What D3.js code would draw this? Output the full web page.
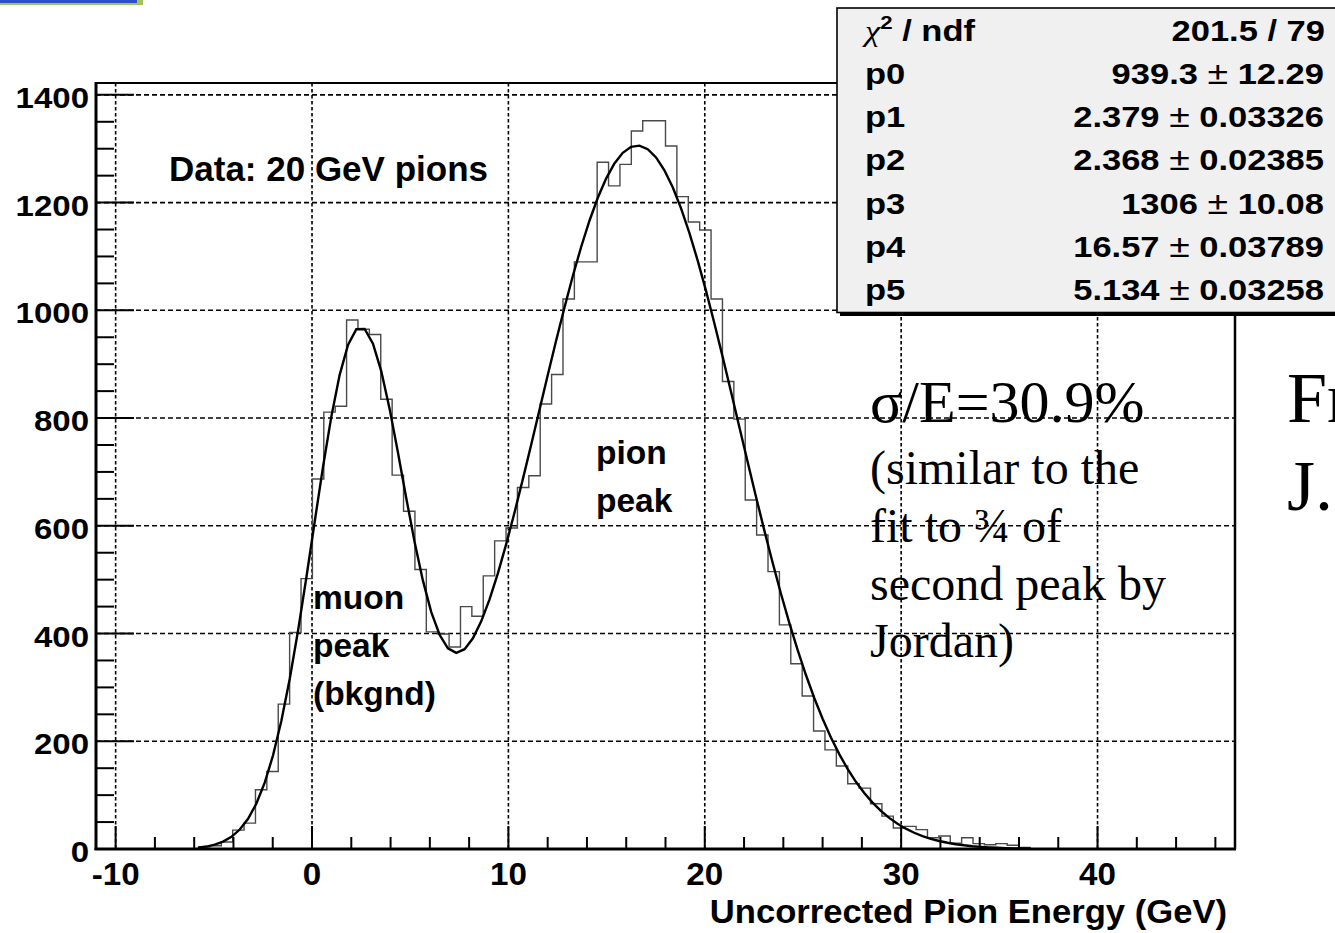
<!DOCTYPE html>
<html><head><meta charset="utf-8">
<script src="https://cdn.jsdelivr.net/npm/d3@7"></script>
<style>html,body{margin:0;padding:0;background:#fff;overflow:hidden}</style>
</head><body>
<svg id="c" width="1335" height="933"></svg>
<script>
// ---------------- data ----------------
const binLow = -11, binHigh = 47, nBins = 100;
const counts = [
  0,0,0,0,0,0,0,0,0,4,
  6,13,35,48,110,144,269,402,502,687,
  811,822,982,965,955,835,694,627,519,403,
  399,375,450,432,507,572,596,671,693,826,
  881,1021,1090,1090,1275,1231,1271,1333,1352,1352,
  1305,1211,1164,1149,1021,868,798,648,583,515,
  416,344,284,219,184,154,121,113,84,61,
  39,42,36,21,24,11,21,10,8,10,
  7,3,0,0,0,0,0,0,0,0,
  0,0,0,0,0,0,0,0,0,0
];
const fitParams = [939.3, 2.379, 2.368, 1306, 16.57, 5.134];
const fitRange = [-5.8, 36.6];
const xTicks = [-10, 0, 10, 20, 30, 40];
const yTicks = [0, 200, 400, 600, 800, 1000, 1200, 1400];
const yMax = 1422;
const xTitle = "Uncorrected Pion Energy (GeV)";
const chiNdf = "201.5 / 79";
const statNames = ["p0", "p1", "p2", "p3", "p4", "p5"];
const statVals = ["939.3", "2.379", "2.368", "1306", "16.57", "5.134"];
const statErrs = ["12.29", "0.03326", "0.02385", "10.08", "0.03789", "0.03258"];
const muonLines = ["muon", "peak", "(bkgnd)"];
const pionLines = ["pion", "peak"];
const dataLabel = "Data: 20 GeV pions";
const resTitle = "σ/E=30.9%";
const resLines = ["(similar to the", "fit to ¾ of", "second peak by", "Jordan)"];
const sideLines = ["Fr", "J."];

// ---------------- layout ----------------
const svg = d3.select("#c");
const L = 96, R = 1235, T = 83, B = 849;
const x = d3.scaleLinear().domain([binLow, binHigh]).range([L, R]);
const y = d3.scaleLinear().domain([0, yMax]).range([B, T]);
const SANS = "'Liberation Sans', Arial, Helvetica, sans-serif";
const SERIF = "'Liberation Serif', 'Times New Roman', serif";

function txt(parent, px, py, str, size, o = {}) {
  const sx = o.sx || 1;
  return parent.append("text")
    .attr("transform", `translate(${px},${py}) scale(${sx},1)`)
    .attr("font-family", o.family || SANS)
    .attr("font-weight", o.weight || "bold")
    .attr("font-size", size)
    .attr("text-anchor", o.anchor || "start")
    .attr("fill", "#000")
    .text(str);
}

// decoration top-left
svg.append("rect").attr("x", 0).attr("y", 0).attr("width", 143).attr("height", 5).attr("fill", "#a6c25a");
svg.append("rect").attr("x", 0).attr("y", 0).attr("width", 137).attr("height", 3).attr("fill", "#2f4fc8");

// grid
const g = svg.append("g");
g.selectAll("line.gx").data(xTicks).join("line")
  .attr("x1", d => x(d)).attr("x2", d => x(d)).attr("y1", T).attr("y2", B)
  .attr("stroke", "#000").attr("stroke-width", 1.6).attr("stroke-dasharray", "3.5,2.5");
g.selectAll("line.gy").data(yTicks.filter(d => d > 0)).join("line")
  .attr("x1", L).attr("x2", R).attr("y1", d => y(d)).attr("y2", d => y(d))
  .attr("stroke", "#000").attr("stroke-width", 1.6).attr("stroke-dasharray", "5,3");

// histogram (step outline)
const bw = (binHigh - binLow) / nBins;
const pts = [[binLow, 0]];
counts.forEach((c, i) => {
  pts.push([binLow + i * bw, c]);
  pts.push([binLow + (i + 1) * bw, c]);
});
pts.push([binHigh, 0]);
svg.append("path")
  .attr("d", d3.line().x(d => x(d[0])).y(d => y(d[1]))(pts))
  .attr("fill", "none").attr("stroke", "#4a4a4a").attr("stroke-width", 1.4);

// fit function from displayed parameters
const [p0, p1, p2, p3, p4, p5] = fitParams;
const f = v => p0 * Math.exp(-0.5 * ((v - p1) / p2) ** 2) + p3 * Math.exp(-0.5 * ((v - p4) / p5) ** 2);
const fx = d3.range(fitRange[0], fitRange[1] + 1e-9, (fitRange[1] - fitRange[0]) / 100);
svg.append("path")
  .attr("d", d3.line().x(d => x(d)).y(d => y(f(d)))(fx))
  .attr("fill", "none").attr("stroke", "#000").attr("stroke-width", 2.4);

// frame
svg.append("line").attr("x1", L).attr("x2", R).attr("y1", T).attr("y2", T).attr("stroke", "#000").attr("stroke-width", 2);
svg.append("line").attr("x1", R).attr("x2", R).attr("y1", T).attr("y2", B).attr("stroke", "#000").attr("stroke-width", 2.5);

// y axis
const yAx = svg.append("g").attr("transform", `translate(${L},0)`);
const yMinor = d3.range(0, 1400.1, 50);
yAx.selectAll("line.t").data(yMinor).join("line")
  .attr("x1", 0).attr("x2", d => (d % 200 === 0 ? 38 : 18))
  .attr("y1", d => y(d)).attr("y2", d => y(d))
  .attr("stroke", "#000").attr("stroke-width", 2);
yAx.append("line").attr("x1", 0).attr("x2", 0).attr("y1", T - 1).attr("y2", B + 1).attr("stroke", "#000").attr("stroke-width", 3);
yTicks.forEach(t => txt(svg, 89, y(t) + 13, String(t), 30, { anchor: "end", sx: 1.1 }));

// x axis
const xAx = svg.append("g");
const xMinor = d3.range(-10, 46.1, 2);
xAx.selectAll("line.t").data(xMinor).join("line")
  .attr("x1", d => x(d)).attr("x2", d => x(d))
  .attr("y1", B).attr("y2", d => B - (d % 10 === 0 ? 23 : 12))
  .attr("stroke", "#000").attr("stroke-width", 2);
xAx.append("line").attr("x1", L - 1.5).attr("x2", R + 1).attr("y1", B).attr("y2", B).attr("stroke", "#000").attr("stroke-width", 3);
xTicks.forEach(t => txt(svg, x(t), 885, String(t), 31, { anchor: "middle", sx: 1.07 }));
txt(svg, 1227, 923, xTitle, 32.5, { anchor: "end", sx: 1.065 });

// labels in plot
txt(svg, 169, 181, dataLabel, 35);
muonLines.forEach((s, i) => txt(svg, 313, 609 + i * 48, s, 33.5));
pionLines.forEach((s, i) => txt(svg, 596, 464 + i * 48, s, 33.5));

// serif annotations
txt(svg, 870, 421.7, resTitle, 60, { family: SERIF, weight: "normal" });
resLines.forEach((s, i) => txt(svg, 870, 484 + i * 57.8, s, 48, { family: SERIF, weight: "normal" }));
sideLines.forEach((s, i) => txt(svg, 1287, 421.7 + i * 88.3, s, 72, { family: SERIF, weight: "normal" }));

// stats box
const sb = svg.append("g");
sb.append("rect").attr("x", 840).attr("y", 11).attr("width", 520).attr("height", 305).attr("fill", "#000");
sb.append("rect").attr("x", 837).attr("y", 8).attr("width", 520).attr("height", 304.5)
  .attr("fill", "#f0f0f0").attr("stroke", "#000").attr("stroke-width", 1.6);
const rowY = i => 40.5 + i * 43.3;
const chi = sb.append("text").attr("transform", `translate(865,${rowY(0)}) scale(1.17,1)`)
  .attr("font-family", SANS).attr("font-weight", "bold").attr("font-size", 29.5);
chi.append("tspan").attr("font-family", SERIF).attr("font-weight", "normal").attr("font-style", "italic").text("χ");
chi.append("tspan").attr("font-size", 19).attr("dy", -12).text("2");
chi.append("tspan").attr("dy", 12).text(" / ndf");
txt(sb, 1325, rowY(0), chiNdf, 29.5, { anchor: "end", sx: 1.17 });
statNames.forEach((n, i) => {
  txt(sb, 865, rowY(i + 1), n, 29.5, { sx: 1.17 });
  const t = sb.append("text").attr("transform", `translate(1324,${rowY(i + 1)}) scale(1.17,1)`)
    .attr("font-family", SANS).attr("font-weight", "bold").attr("font-size", 29.5).attr("text-anchor", "end");
  t.append("tspan").text(statVals[i] + " ");
  t.append("tspan").attr("font-weight", "normal").attr("font-size", 32).text("±");
  t.append("tspan").text(" " + statErrs[i]);
});
</script>
</body></html>
